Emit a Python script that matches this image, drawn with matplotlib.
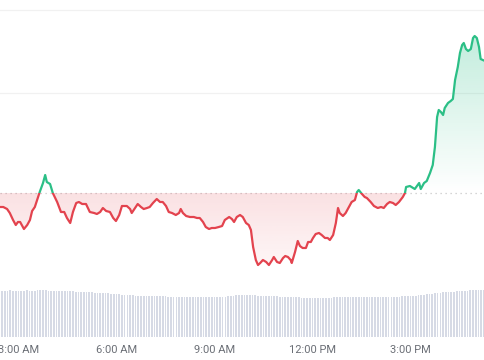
"""Intraday price chart: green/red line around the open price, volume bars below."""

import numpy as np
import matplotlib
matplotlib.use("Agg")
import matplotlib.pyplot as plt
from matplotlib.patches import Rectangle
from matplotlib.path import Path

# ── Data (time = minutes since midnight, price as index, volume arbitrary) ──

price_times = [
    146, 152, 159, 164, 170, 175, 179, 183, 186, 190, 196, 201, 205, 210, 216,
    219, 225, 229, 232, 238, 243, 251, 258, 264, 269, 275, 280, 286, 291, 297,
    304, 311, 319, 324, 330, 335, 341, 348, 354, 359, 365, 370, 379, 385, 388,
    394, 399, 405, 410, 416, 421, 427, 434, 440, 445, 451, 456, 462, 469, 475,
    478, 482, 488, 495, 502, 508, 513, 519, 524, 530, 535, 541, 548, 554, 559,
    567, 572, 576, 581, 587, 592, 598, 603, 607, 611, 616, 620, 624, 629, 635,
    640, 646, 649, 655, 660, 666, 670, 675, 680, 682, 688, 693, 697, 702, 708,
    712, 717, 721, 726, 732, 737, 743, 748, 752, 758, 763, 767, 770, 776, 781,
    787, 792, 798, 802, 805, 811, 816, 820, 827, 833, 840, 846, 851, 857, 862,
    868, 873, 879, 886, 890, 892, 899, 905, 908, 916, 919, 925, 930, 936, 941,
    945, 949, 952, 956, 960, 963, 969, 974, 978, 982, 987, 991, 995, 998, 1002,
    1006, 1011, 1015, 1018, 1022, 1026, 1029, 1037,
]

prices = [
    98.6, 98.6, 98.4, 98.0, 97.3, 96.8, 97.1, 97.1, 96.8, 96.4, 96.8, 97.3, 98.2, 98.6, 99.6,
    100.1, 101.0, 101.8, 101.1, 100.9, 100.0, 99.1, 98.1, 98.1, 97.5, 97.0, 98.1, 99.0, 99.1, 98.9,
    98.9, 98.1, 98.0, 97.9, 98.1, 98.5, 98.2, 98.1, 97.5, 97.2, 97.8, 98.7, 98.7, 98.4, 98.0,
    98.5, 98.9, 98.6, 98.4, 98.5, 98.6, 99.0, 99.4, 99.1, 99.1, 98.7, 98.1, 98.0, 97.8, 98.0,
    98.4, 98.0, 97.7, 97.6, 97.6, 97.5, 97.5, 97.1, 96.6, 96.4, 96.5, 96.5, 96.6, 96.7, 97.3,
    97.6, 97.4, 97.1, 97.6, 97.8, 97.6, 97.0, 96.8, 96.3, 94.6, 93.3, 92.8, 93.0, 93.3, 93.1,
    92.8, 93.3, 93.6, 93.1, 93.0, 93.5, 93.7, 93.6, 93.3, 93.0, 94.1, 95.2, 94.7, 94.5, 94.5,
    95.1, 95.1, 95.5, 95.9, 96.0, 95.8, 95.5, 95.5, 95.3, 95.8, 97.0, 98.5, 98.0, 97.7, 98.0,
    98.6, 99.1, 99.3, 100.1, 100.3, 99.9, 99.6, 99.5, 99.1, 98.7, 98.5, 98.6, 98.5, 98.9, 99.1,
    99.0, 98.8, 99.1, 99.6, 100.0, 100.6, 100.7, 100.5, 100.4, 101.0, 100.4, 101.0, 101.2, 102.0, 102.8,
    104.6, 107.6, 108.3, 108.1, 107.8, 108.5, 109.0, 109.2, 109.4, 111.3, 112.6, 114.0, 114.8, 115.0, 114.4,
    114.2, 114.4, 115.5, 115.7, 115.5, 114.6, 113.4, 113.2,
]

open_price = 100.0
grid_levels = [110.0, 118.3]

vol_start, vol_step = 145, 5
volumes = [
    46.3, 46.5, 46.2, 46.4, 46.6, 46.3, 46.1, 46.4, 46.5, 46.3, 46.6, 46.4, 46.2, 46.5, 46.7, 46.9, 46.8, 46.6, 46.5,
    46.4, 46.3, 46.4, 46.1, 46.0, 45.9, 45.8, 45.9, 45.6, 45.5, 45.4, 45.3, 45.0, 44.9, 44.8, 44.6, 44.5, 44.3,
    44.2, 44.0, 43.9, 43.6, 43.3, 43.1, 43.0, 42.8, 42.5, 42.3, 42.0, 41.8, 41.6, 41.5, 41.4, 41.3, 41.2, 41.1,
    41.0, 40.9, 40.8, 40.8, 40.7, 40.6, 40.6, 40.5, 40.5, 40.4, 40.4, 40.3, 40.3, 40.2, 40.2, 40.1, 40.1, 40.0,
    40.0, 39.9, 39.9, 39.8, 39.8, 39.7, 39.7, 39.6,
    39.7, 39.9, 40.2, 40.6, 41.0, 41.4, 41.6, 41.8,
    41.9, 42.0, 42.0, 41.9, 41.8, 41.7, 41.5, 41.3,
    41.2, 41.0, 40.9, 40.8, 40.7, 40.6, 40.5, 40.4, 40.3, 40.1, 40.0, 39.9, 39.8, 39.6,
    39.5, 39.4, 39.4, 39.3, 39.3, 39.3, 39.2, 39.3, 39.4, 39.4, 39.5, 39.5, 39.6, 39.6, 39.6,
    39.7, 39.7, 39.7, 39.8, 39.8, 39.8, 39.7, 39.7, 39.6, 39.6, 39.6, 39.6, 39.7, 39.7, 39.8,
    39.8, 39.9, 40.0, 40.1, 40.2, 40.3, 40.4, 40.6, 40.8, 40.9, 41.0, 41.2,
    41.5, 41.8, 42.1, 42.5, 42.8, 43.1, 43.4, 43.7,
    44.0, 44.3, 44.6, 44.8, 45.1, 45.3, 45.5, 45.7, 45.9, 46.1, 46.3, 46.5, 46.6, 46.7, 46.8, 46.9, 47.0, 47.0,
]

tick_times = [180, 360, 540, 720, 900]
tick_labels = ["3:00 AM", "6:00 AM", "9:00 AM", "12:00 PM", "3:00 PM"]

_GREEN = "#2bbf86"
_RED = "#e3434e"
_BAR = "#d6dae5"
_TXT = "#6b6f76"

plt.rcParams["font.family"] = ["Roboto", "DejaVu Sans"]


def _gradient_fill(ax, t, p, where, color, a_near, a_far, y_near, y_far):
    coll = ax.fill_between(t, open_price, p, where=where, interpolate=True,
                           color="none", linewidth=0)
    path = Path.make_compound_path(*coll.get_paths())
    rgb = matplotlib.colors.to_rgb(color)
    img = np.zeros((256, 1, 4))
    img[:, 0, :3] = rgb
    # row 0 = y_far side, last row = near the baseline
    img[:, 0, 3] = np.linspace(a_far, a_near, 256)
    lo, hi = sorted([y_near, y_far])
    origin = "upper" if y_far > y_near else "lower"
    im = ax.imshow(img, aspect="auto", origin=origin,
                   extent=[t[0], t[-1], lo, hi], zorder=1)
    im.set_clip_path(path, transform=ax.transData)


def main() -> None:
    t = np.array(price_times, dtype=float)
    p = np.array(prices)
    vt = vol_start + vol_step * np.arange(len(volumes))

    fig = plt.figure(figsize=(4.85, 3.6), dpi=100)
    fig.patch.set_facecolor("white")

    # price panel: pixel rows 0..280
    ax = fig.add_axes([0, 80 / 360, 1, 280 / 360])
    ax.set_xlim(146, 1037)
    ax.set_ylim(91.3, 119.3)
    ax.axis("off")

    for g in grid_levels:
        ax.axhline(g, color="#f1f1f1", lw=0.9, zorder=0)
    ax.axhline(open_price, color="#c8c8c8", lw=0.9, ls=(0, (1, 3)), zorder=0.5)

    _gradient_fill(ax, t, p, p >= open_price, _GREEN, 0.0, 0.28, open_price, p.max())
    _gradient_fill(ax, t, p, p <= open_price, _RED, 0.16, 0.05, open_price, p.min())

    up = Rectangle((0, open_price), 2000, 100, transform=ax.transData)
    dn = Rectangle((0, open_price - 100), 2000, 100, transform=ax.transData)
    l1, = ax.plot(t, p, color=_GREEN, lw=1.6, zorder=3, solid_joinstyle="round")
    l1.set_clip_path(up)
    l2, = ax.plot(t, p, color=_RED, lw=1.6, zorder=3, solid_joinstyle="round")
    l2.set_clip_path(dn)

    # volume panel: pixel rows 280..337
    axv = fig.add_axes([0, 23 / 360, 1, 57 / 360])
    axv.set_xlim(146, 1037)
    axv.set_ylim(0, 57)
    axv.bar(vt, volumes, width=3.1, color=_BAR, linewidth=0)
    for sp in axv.spines.values():
        sp.set_visible(False)
    axv.set_yticks([])
    axv.set_xticks(tick_times)
    axv.set_xticklabels(tick_labels, color=_TXT, fontsize=8)
    axv.tick_params(axis="x", length=0, pad=6)

    fig.savefig("out.png", dpi=100, facecolor="white")
    plt.close(fig)


if __name__ == "__main__":
    main()
